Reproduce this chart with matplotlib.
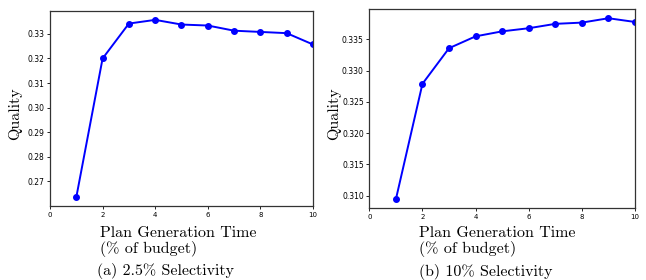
import matplotlib
matplotlib.use("Agg")
import matplotlib.pyplot as plt

# plan generation time (% of budget)
budget = [1, 2, 3, 4, 5, 6, 7, 8, 9, 10]
# quality at 2.5% selectivity
quality_a = [0.2636, 0.3200, 0.3342, 0.3357, 0.3338, 0.3334, 0.3313, 0.3308, 0.3303, 0.3257]
# quality at 10% selectivity
quality_b = [0.3094, 0.3279, 0.3336, 0.3355, 0.3363, 0.3368, 0.3375, 0.3377, 0.3384, 0.3378]

captions = ["(a) 2.5% Selectivity", "(b) 10% Selectivity"]
serif = "cmr10"
fs = 11.5

fig = plt.figure(figsize=(6.46, 2.8), dpi=100)
ax1 = fig.add_axes([0.0774, 0.264, 0.4071, 0.6967])
ax2 = fig.add_axes([0.5717, 0.256, 0.4113, 0.7112])

for ax, q in [(ax1, quality_a), (ax2, quality_b)]:
    ax.plot(budget, q, color="#0000ff", marker="o", markersize=4, linewidth=1.4)
    ax.set_xlim(0, 10)
    ax.set_xticks([0, 2, 4, 6, 8, 10])
    ax.tick_params(axis="x", labelsize=5, length=2.5, width=0.6, pad=1.5)
    ax.tick_params(axis="y", labelsize=5.5, length=2.5, width=0.6, pad=1.5)
    for s in ax.spines.values():
        s.set_linewidth(0.9)
        s.set_color("#333333")

ax1.set_yticks([0.27, 0.28, 0.29, 0.30, 0.31, 0.32, 0.33])
ax1.set_yticklabels(["0.27", "0.28", "0.29", "0.30", "0.31", "0.32", "0.33"])
ax2.set_yticks([0.310, 0.315, 0.320, 0.325, 0.330, 0.335])
ax2.set_yticklabels(["0.310", "0.315", "0.320", "0.325", "0.330", "0.335"])

# y labels
fig.text(15 / 646, 1 - 114 / 280, "Quality", rotation=90, ha="center", va="center",
         family=serif, fontsize=fs)
fig.text(334 / 646, 1 - 114 / 280, "Quality", rotation=90, ha="center", va="center",
         family=serif, fontsize=fs)

# x labels (two lines, left aligned)
for x0 in [100 / 646, 419 / 646]:
    fig.text(x0, 1 - 233 / 280, "Plan Generation Time", ha="left", va="center",
             family=serif, fontsize=fs)
    fig.text(x0, 1 - 249 / 280, "(% of budget)", ha="left", va="center",
             family=serif, fontsize=fs)

# captions
fig.text(97 / 646, 1 - 271 / 280, captions[0], ha="left", va="center",
         family=serif, fontsize=fs)
fig.text(419 / 646, 1 - 272 / 280, captions[1], ha="left", va="center",
         family=serif, fontsize=fs)

fig.savefig("out.png", dpi=100)
